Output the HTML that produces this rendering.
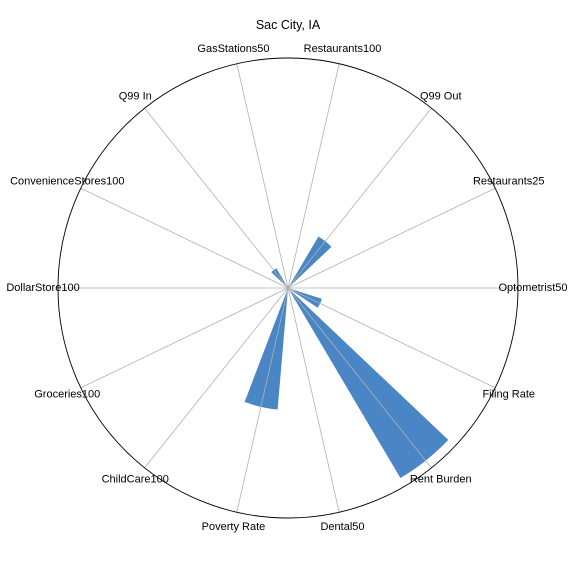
<!DOCTYPE html>
<html><head><meta charset="utf-8"><style>
body{margin:0;background:#fff;}
svg{display:block;font-family:"Liberation Sans",sans-serif;}
</style></head><body>
<svg id="chart" width="576" height="576">
<text x="288" y="29" text-anchor="middle" font-size="12.5">Sac City, IA</text>
</svg>
<script>
const categories = ["Optometrist50","Restaurants25","Q99 Out","Restaurants100","GasStations50","Q99 In","ConvenienceStores100","DollarStore100","Groceries100","ChildCare100","Poverty Rate","Dental50","Rent Burden","Filing Rate"];
const values = [0, 0, 0.26, 0, 0, 0.1, 0, 0, 0, 0, 0.53, 0, 0.96, 0.155];
const rMax = 1;

const svg = document.getElementById('chart');
const NS = 'http://www.w3.org/2000/svg';
const cx = 288, cy = 288, R = 230;
const n = categories.length;
const step = 2*Math.PI/n;
const barW = step*0.62;
function ang(i){return i*step;}
function rad(v){return v/rMax*R;}
function pt(a,r){return [cx + r*Math.cos(a), cy - r*Math.sin(a)];}

// bars
for(let i=0;i<n;i++){
  if(values[i]<=0) continue;
  const r=rad(values[i]);
  const a0=ang(i)-barW/2, a1=ang(i)+barW/2;
  const [x0,y0]=pt(a0,r),[x1,y1]=pt(a1,r);
  const p=document.createElementNS(NS,'path');
  p.setAttribute('d',`M${cx},${cy} L${x0},${y0} A${r},${r} 0 0 0 ${x1},${y1} Z`);
  p.setAttribute('fill','#4a86c6');
  
  
  svg.appendChild(p);
}
// gridlines
for(let i=0;i<n;i++){
  const [x,y]=pt(ang(i),R);
  const l=document.createElementNS(NS,'line');
  l.setAttribute('x1',cx);l.setAttribute('y1',cy);l.setAttribute('x2',x);l.setAttribute('y2',y);
  l.setAttribute('stroke','#b0b0b0');l.setAttribute('stroke-width','0.8');
  
  
  svg.appendChild(l);
}
// outer circle
const c=document.createElementNS(NS,'circle');
c.setAttribute('cx',cx);c.setAttribute('cy',cy);c.setAttribute('r',R);
c.setAttribute('fill','none');c.setAttribute('stroke','#000');c.setAttribute('stroke-width','0.9');


svg.appendChild(c);
// labels
for(let i=0;i<n;i++){
  const [x,y]=pt(ang(i),245);
  const t=document.createElementNS(NS,'text');
  t.setAttribute('x',x);t.setAttribute('y',y+3);
  t.setAttribute('text-anchor','middle');t.setAttribute('font-size','11');
  t.textContent=categories[i];
  
  
  svg.appendChild(t);
}
</script>
</body></html>
